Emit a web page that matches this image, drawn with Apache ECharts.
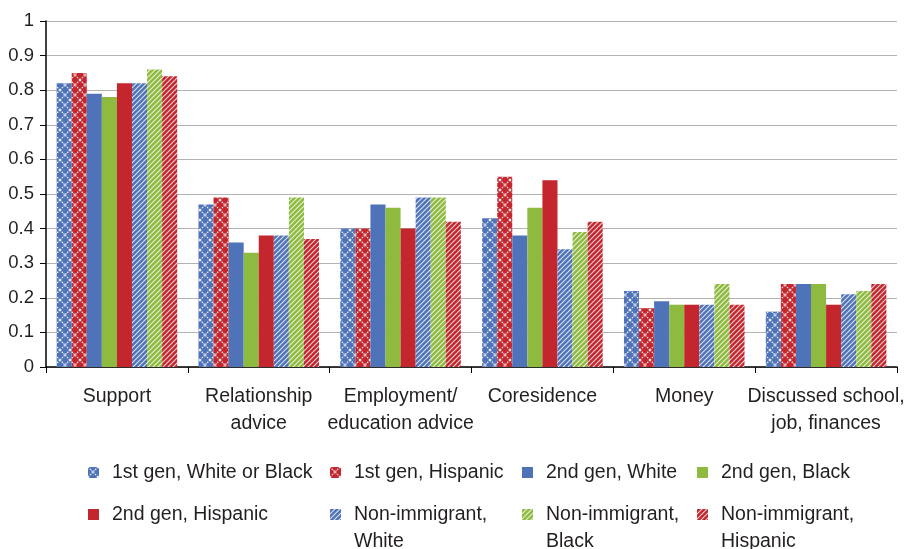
<!DOCTYPE html>
<html>
<head>
<meta charset="utf-8">
<script src="https://cdn.jsdelivr.net/npm/echarts@6/dist/echarts.min.js"></script>
<style>
    html, body { margin: 0; padding: 0; background: #fff; }
    #chart { width: 905px; height: 549px; }
</style>
</head>
<body>
<div id="chart"></div>
<script>
    // categories and series values
    let categories = ['Support', 'Relationship\nadvice', 'Employment/\neducation advice', 'Coresidence', 'Money', 'Discussed school,\njob, finances'];
    let seriesNames = ['1st gen, White or Black', '1st gen, Hispanic', '2nd gen, White', '2nd gen, Black',
        '2nd gen, Hispanic', 'Non-immigrant,\nWhite', 'Non-immigrant,\nBlack', 'Non-immigrant,\nHispanic'];
    let gen1WhiteBlack = [0.82, 0.47, 0.40, 0.43, 0.22, 0.16];
    let gen1Hispanic = [0.85, 0.49, 0.40, 0.55, 0.17, 0.24];
    let gen2White = [0.79, 0.36, 0.47, 0.38, 0.19, 0.24];
    let gen2Black = [0.78, 0.33, 0.46, 0.46, 0.18, 0.24];
    let gen2Hispanic = [0.82, 0.38, 0.40, 0.54, 0.18, 0.18];
    let nonImmWhite = [0.82, 0.38, 0.49, 0.34, 0.18, 0.21];
    let nonImmBlack = [0.86, 0.49, 0.49, 0.39, 0.24, 0.22];
    let nonImmHispanic = [0.84, 0.37, 0.42, 0.42, 0.18, 0.24];
    let yTicks = [0, 0.1, 0.2, 0.3, 0.4, 0.5, 0.6, 0.7, 0.8, 0.9, 1];

    let blue = '#4e73b9';
    let red = '#c4262e';
    let green = '#8dba3f';
    let font = 'Liberation Sans, Arial, sans-serif';

    // crosshatch tile (white dotted X on colour)
    function crossHatch(color) {
        let c = document.createElement('canvas');
        c.width = 10; c.height = 10;
        let ctx = c.getContext('2d');
        ctx.fillStyle = color;
        ctx.fillRect(0, 0, 10, 10);
        ctx.strokeStyle = 'rgba(255,255,255,0.9)';
        ctx.lineWidth = 1.2;
        ctx.setLineDash([1.5, 1]);
        ctx.beginPath();
        ctx.moveTo(0, 0); ctx.lineTo(10, 10);
        ctx.moveTo(10, 0); ctx.lineTo(0, 10);
        ctx.stroke();
        return {image: c, repeat: 'repeat'};
    }

    // diagonal stripes tile (white / on colour)
    function stripes(color) {
        let c = document.createElement('canvas');
        c.width = 5; c.height = 5;
        let ctx = c.getContext('2d');
        ctx.fillStyle = color;
        ctx.fillRect(0, 0, 5, 5);
        ctx.strokeStyle = 'rgba(255,255,255,0.8)';
        ctx.lineWidth = 1.1;
        ctx.beginPath();
        ctx.moveTo(-1, 6); ctx.lineTo(6, -1);
        ctx.moveTo(-1, 1); ctx.lineTo(1, -1);
        ctx.moveTo(4, 6); ctx.lineTo(6, 4);
        ctx.stroke();
        return {image: c, repeat: 'repeat'};
    }

    let dataList = [gen1WhiteBlack, gen1Hispanic, gen2White, gen2Black, gen2Hispanic, nonImmWhite, nonImmBlack, nonImmHispanic];
    let colorList = [crossHatch(blue), crossHatch(red), blue, green, red, stripes(blue), stripes(green), stripes(red)];

    let series = dataList.map((values, i) => {
        return {
            name: seriesNames[i],
            type: 'bar',
            data: values,
            barGap: '0%',
            barCategoryGap: '15%',
            itemStyle: {color: colorList[i]},
            emphasis: {disabled: true}
        };
    });

    // legend placed item by item, 4 columns x 2 rows; icon centre y is 472 / 514
    // two-line names get a tall icon box with the square at its top, so the
    // first text line sits beside the square
    let legendX = [88, 330, 522, 697];
    let legends = seriesNames.map((name, i) => {
        let multi = name.indexOf('\n') >= 0;
        let iconY = i < 4 ? 472.5 : 514.5;
        return {
            data: [name],
            left: legendX[i % 4],
            top: iconY - 13.5,
            padding: 0,
            icon: multi ? 'path://M0,0h11v11h-11z M0,37.9h0.01v0.01h-0.01z' : 'rect',
            itemWidth: 11,
            itemHeight: multi ? 38 : 11,
            itemGap: 0,
            selectedMode: false,
            textStyle: {
                fontFamily: font,
                fontSize: 19.5,
                color: '#231f20',
                lineHeight: 27,
                padding: [0, 0, 0, 8]
            }
        };
    });

    let myChart = echarts.init(document.getElementById('chart'));
    let option = {
        animation: false,
        textStyle: {fontFamily: font},
        grid: {left: 46, right: 8, top: 21, bottom: 182, containLabel: false, outerBoundsMode: 'none'},
        legend: legends,
        xAxis: {
            type: 'category',
            data: categories,
            axisLine: {lineStyle: {color: '#000', width: 1.5}},
            axisTick: {show: true, length: 6, lineStyle: {color: '#000'}},
            axisLabel: {
                fontSize: 19.5,
                color: '#231f20',
                lineHeight: 27,
                margin: 16,
                interval: 0
            }
        },
        yAxis: {
            type: 'value',
            min: yTicks[0],
            max: yTicks[yTicks.length - 1],
            interval: 0.1,
            axisLine: {show: true, lineStyle: {color: '#000', width: 1.5}},
            axisTick: {show: true, inside: false, length: 6, lineStyle: {color: '#000'}},
            axisLabel: {
                fontSize: 18.5,
                color: '#231f20',
                margin: 12,
                formatter: (v) => String(Math.round(v * 10) / 10)
            },
            splitLine: {lineStyle: {color: '#b3b3b3', width: 1.2}}
        },
        series: series
    };
    myChart.setOption(option);
</script>
</body>
</html>
